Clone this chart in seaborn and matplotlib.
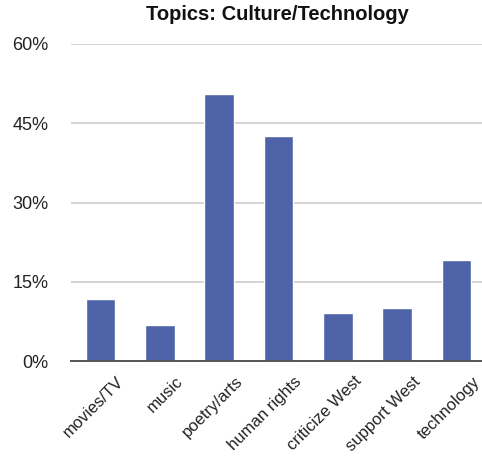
import matplotlib
matplotlib.use("Agg")
import matplotlib.pyplot as plt
import matplotlib.transforms as mtransforms
import seaborn as sns
import pandas as pd

categories = ["movies/TV", "music", "poetry/arts", "human rights",
              "criticize West", "support West", "technology"]
values = [11.7, 6.8, 50.5, 42.5, 9.0, 10.1, 19.2]
yticks = [0, 15, 30, 45, 60]
ytick_labels = ["0%", "15%", "30%", "45%", "60%"]

sns.set_style("white")
plt.rcParams['font.family'] = ['Liberation Sans', 'DejaVu Sans']

df = pd.DataFrame({"topic": categories, "pct": values})

fig = plt.figure(figsize=(4.82, 4.58), dpi=100)
ax = fig.add_axes([71/482, 97/458, 415/482, 317/458])
sns.barplot(data=df, x="topic", y="pct", color="#4f64a8", width=0.5,
            saturation=1, ax=ax, zorder=3)
ax.set_xlim(-0.5, 6.5)
ax.set_ylim(0, 60)
ax.set_yticks(yticks)
ax.set_yticklabels(ytick_labels, fontsize=13, color="#222222")
ax.yaxis.grid(True, color="#cccccc", linewidth=1.2, zorder=0)
ax.set_axisbelow(True)
for s in ["top", "right", "left"]:
    ax.spines[s].set_visible(False)
ax.spines["bottom"].set_color("#555555")
ax.spines["bottom"].set_linewidth(1.4)
ax.spines["bottom"].set_zorder(4)
ax.tick_params(axis="y", length=0, pad=16)
ax.tick_params(axis="x", length=0, pad=0)
ax.set_xlabel("")
ax.set_ylabel("")
offset = mtransforms.ScaledTranslation(21/100, -18/100, fig.dpi_scale_trans)
for lbl in ax.get_xticklabels():
    lbl.set_rotation(45)
    lbl.set_ha("right")
    lbl.set_va("center")
    lbl.set_rotation_mode("anchor")
    lbl.set_fontsize(12)
    lbl.set_color("#222222")
    lbl.set_transform(lbl.get_transform() + offset)
fig.text(277/482, 1 - 15/458, "Topics: Culture/Technology",
         ha="center", va="center", fontsize=14.5, fontweight="bold", color="#111111")
fig.savefig("out.png", dpi=100)
